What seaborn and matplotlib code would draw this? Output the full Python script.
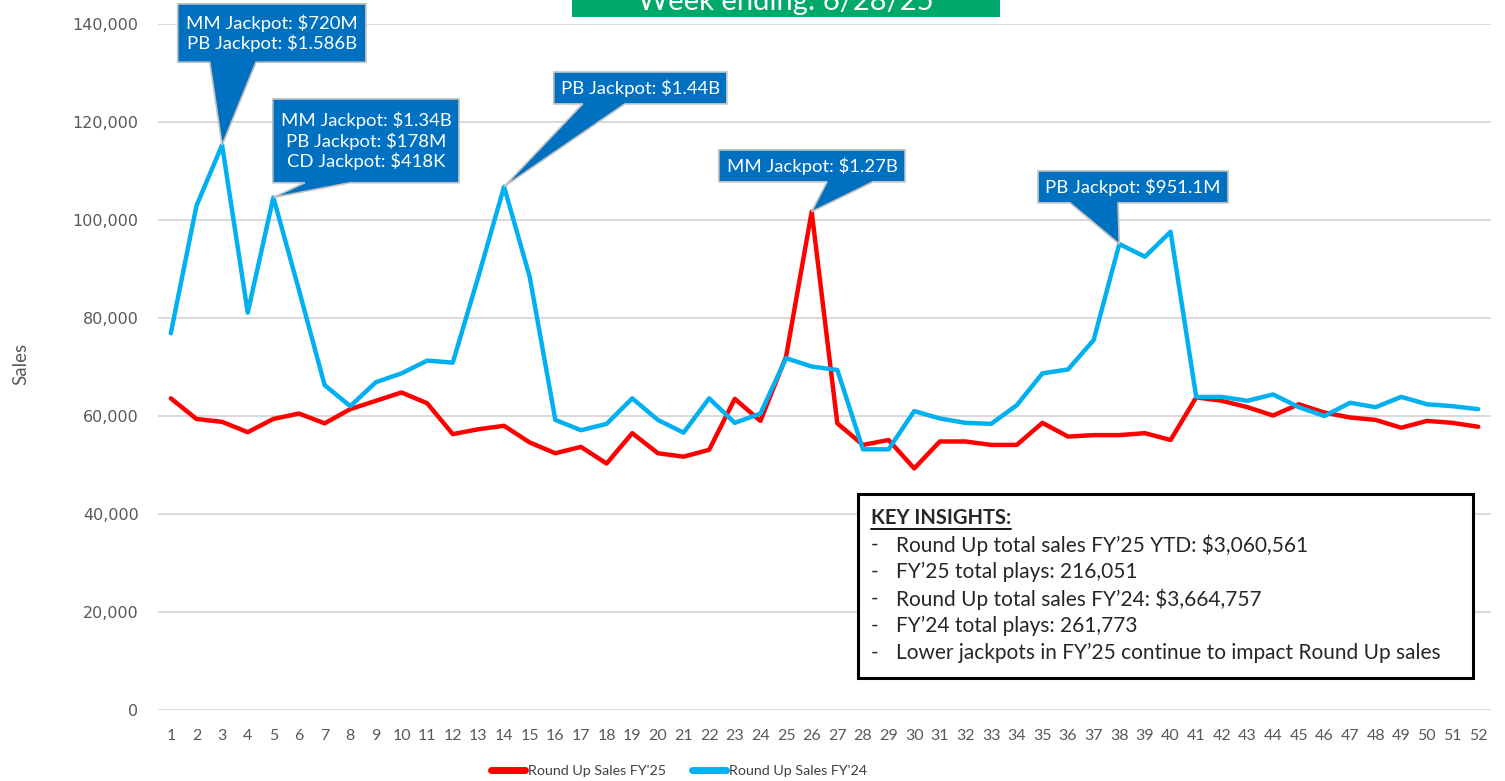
import numpy as np
import pandas as pd
import matplotlib
matplotlib.use('Agg')
import matplotlib.pyplot as plt
import seaborn as sns
from matplotlib.patches import Polygon, Rectangle
from matplotlib.lines import Line2D

# --- data ---
weeks = list(range(1, 53))
sales_fy25 = [63600, 59400, 58800, 56700, 59400, 60500, 58500, 61400, 63100, 64800,
              62600, 56300, 57300, 58000, 54600, 52400, 53700, 50300, 56500, 52400,
              51700, 53100, 63500, 59000, 72100, 101700, 58500, 54100, 55100, 49300,
              54800, 54800, 54100, 54100, 58600, 55800, 56100, 56100, 56500, 55100,
              63800, 63100, 61800, 60100, 62400, 60700, 59700, 59200, 57600, 59000,
              58600, 57800]
sales_fy24 = [76900, 102900, 115300, 81100, 104600, 85700, 66300, 62000, 66900, 68700,
              71300, 70900, 88500, 106800, 88400, 59200, 57100, 58400, 63600, 59200,
              56600, 63600, 58600, 60500, 71800, 70100, 69400, 53200, 53200, 61000,
              59500, 58600, 58400, 62200, 68700, 69500, 75500, 95100, 92500, 97600,
              63900, 63900, 63100, 64400, 61800, 60000, 62700, 61800, 63900, 62400,
              62000, 61400]
series_names = ["Round Up Sales FY'25", "Round Up Sales FY'24"]
series_colors = ['#FF0000', '#00B0F0']
y_ticks = [0, 20000, 40000, 60000, 80000, 100000, 120000, 140000]

callout_texts = ['MM Jackpot: $720M\nPB Jackpot: $1.586B',
                 'MM Jackpot: $1.34B\nPB Jackpot: $178M\nCD Jackpot: $418K',
                 'PB Jackpot: $1.44B',
                 'MM Jackpot: $1.27B',
                 'PB Jackpot: $951.1M']
callout_weeks = [3, 5, 14, 26, 38]
callout_series = [1, 1, 1, 0, 1]

insight_title = 'KEY INSIGHTS:'
insight_lines = ['Round Up total sales FY\u201925 YTD: $3,060,561',
                 'FY\u201925 total plays: 216,051',
                 'Round Up total sales FY\u201924: $3,664,757',
                 'FY\u201924 total plays: 261,773',
                 'Lower jackpots in FY\u201925 continue to impact Round Up sales']
title_text = 'Week ending: 6/28/25'

# --- style ---
sns.set_theme(style='whitegrid')
plt.rcParams['font.family'] = ['Lato', 'DejaVu Sans']

df = pd.DataFrame({
    'week': weeks * 2,
    'sales': sales_fy25 + sales_fy24,
    'series': [series_names[0]] * len(weeks) + [series_names[1]] * len(weeks),
})

fig = plt.figure(figsize=(15.05, 7.81), dpi=100)
ax = fig.add_axes([158 / 1505, 71 / 781, 1333 / 1505, 686 / 781])

sns.lineplot(data=df, x='week', y='sales', hue='series',
             palette=dict(zip(series_names, series_colors)),
             linewidth=3.2, legend=False, ax=ax, zorder=3)

ax.set_xlim(0.5, 52.5)
ax.set_ylim(0, 140000)
ax.set_xticks(weeks)
ax.set_yticks(y_ticks, labels=[f'{v:,}' for v in y_ticks],
              fontfamily='DejaVu Sans', fontsize=11.5)
ax.grid(axis='y', color='#D9D9D9', linewidth=1.4)
ax.grid(axis='x', visible=False)
for s in ax.spines.values():
    s.set_visible(False)
ax.tick_params(axis='both', length=0, colors='#595959')
ax.tick_params(axis='x', labelsize=11.5, pad=14)
ax.tick_params(axis='y', pad=14)
ax.set_xlabel('')
ax.set_ylabel('Sales', fontsize=13.5, color='#595959')
ax.yaxis.set_label_coords(-0.0965, 0.505)

# --- callouts (box x0, x1, y_bottom, y_top, wedge base x0, x1) ---
series_vals = [sales_fy25, sales_fy24]
boxes = [(1.27, 8.61, 132200, 144100, 2.52, 4.32),
         (4.98, 12.24, 107600, 124700, 6.23, 7.98),
         (15.94, 22.69, 123700, 130200, 17.07, 18.71),
         (22.38, 29.64, 107800, 114300, 26.6, 28.39),
         (34.83, 42.24, 103500, 110000, 36.08, 37.95)]
for txt, wk, si, (x0, x1, yb, yt, b0, b1) in zip(callout_texts, callout_weeks, callout_series, boxes):
    tip = (wk, series_vals[si][wk - 1])
    poly = Polygon([(x0, yt), (x1, yt), (x1, yb), (b1, yb), tip, (b0, yb), (x0, yb)],
                   closed=True, facecolor='#0070C0', edgecolor='#C0C0C0', linewidth=1.2,
                   clip_on=False, zorder=5)
    ax.add_patch(poly)
    ax.text((x0 + x1) / 2, (yb + yt) / 2, txt, ha='center', va='center', color='white',
            fontsize=13.3, linespacing=1.2, zorder=6, clip_on=False)

# --- key insights box ---
ax.add_patch(Rectangle((27.8, 6500), 24.0, 37600, facecolor='white', edgecolor='black',
                       linewidth=2.2, zorder=7))
t = ax.text(28.31, 39200, insight_title, fontsize=14.5, fontweight='bold', va='center',
            ha='left', zorder=8)
for i, line in enumerate(insight_lines):
    yy = 33700 - i * 5510
    ax.text(28.31, yy, '-', fontsize=15, va='center', ha='left', zorder=8)
    ax.text(29.29, yy, line, fontsize=15, va='center', ha='left', zorder=8)

# --- title box, cut off at top of figure ---
fig.patches.append(Rectangle((572 / 1505, 1 - 17 / 781), 428 / 1505, 40 / 781,
                             transform=fig.transFigure, facecolor='#00A86B',
                             edgecolor='none', zorder=1))
fig.text(786 / 1505, 1 - 10 / 781, title_text, ha='center', va='baseline',
         color='white', fontsize=21)

# --- legend ---
handles = [Line2D([0], [0], color=c, linewidth=5, solid_capstyle='round') for c in series_colors]
fig.legend(handles, series_names, loc='center', bbox_to_anchor=(679 / 1505, 10 / 781),
           ncol=2, frameon=False, handlelength=2.4, handletextpad=0.2,
           columnspacing=1.8, labelcolor='#404040', fontsize=10.3)

# underline for the insights title
fig.canvas.draw()
bb = t.get_window_extent(renderer=fig.canvas.get_renderer())
fig.add_artist(Line2D([bb.x0 / fig.bbox.width, bb.x1 / fig.bbox.width],
                      [(bb.y0 - 1) / fig.bbox.height] * 2,
                      transform=fig.transFigure, color='black', linewidth=1.3, zorder=9))

fig.savefig('out.png', dpi=100)
